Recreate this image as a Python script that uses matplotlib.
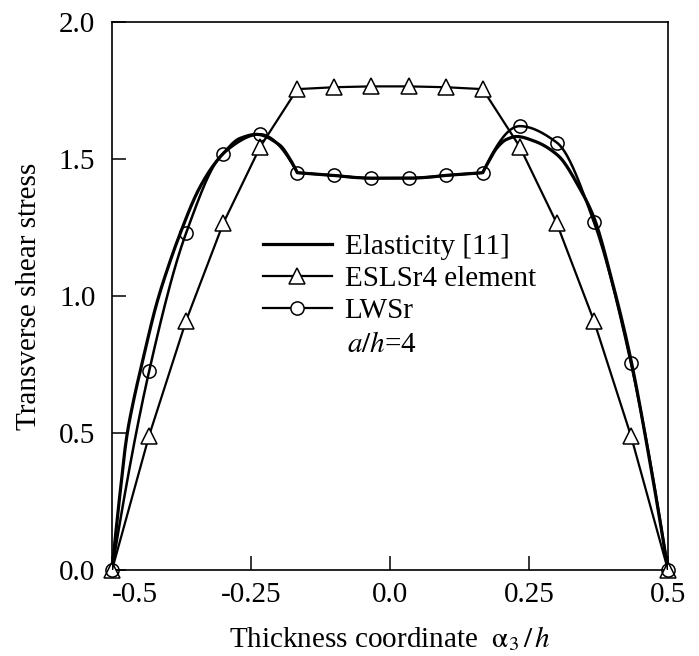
import numpy as np
import matplotlib
matplotlib.use("Agg")
import matplotlib.pyplot as plt
from matplotlib.lines import Line2D

# ---------------- data ----------------
x_nodes = [-0.5, -0.4333, -0.3667, -0.3, -0.2333, -0.1667, -0.1, -0.0333,
           0.0333, 0.1, 0.1667, 0.2333, 0.3, 0.3667, 0.4333, 0.5]
eslsr4 = [0.0, 0.49, 0.91, 1.265, 1.545, 1.755, 1.762, 1.765,
          1.765, 1.762, 1.755, 1.545, 1.265, 0.91, 0.49, 0.0]
lwsr = [0.0, 0.725, 1.23, 1.52, 1.59, 1.45, 1.44, 1.43,
        1.43, 1.44, 1.45, 1.62, 1.56, 1.27, 0.755, 0.0]

elas_x = [-0.5, -0.485, -0.474, -0.46, -0.447, -0.42, -0.40, -0.378, -0.345,
          -0.32, -0.30, -0.27, -0.24, -0.198, -0.18, -0.1667,
          -0.1333, -0.1, -0.0667, -0.0333, 0.0, 0.0333, 0.0667, 0.1, 0.1333,
          0.1667, 0.18, 0.192, 0.21, 0.228, 0.26, 0.302, 0.342, 0.367,
          0.40, 0.433, 0.467, 0.5]
elas_y = [0.0, 0.29, 0.48, 0.63, 0.745, 0.97, 1.10, 1.225, 1.385,
          1.47, 1.52, 1.575, 1.59, 1.55, 1.50, 1.45,
          1.445, 1.44, 1.433, 1.43, 1.43, 1.43, 1.433, 1.44, 1.445,
          1.45, 1.50, 1.54, 1.572, 1.582, 1.565, 1.513, 1.39, 1.285,
          1.05, 0.77, 0.40, 0.0]

xtick_vals = [-0.5, -0.25, 0.0, 0.25, 0.5]
xtick_labels = ["-0.5", "-0.25", "0.0", "0.25", "0.5"]
ytick_vals = [0.0, 0.5, 1.0, 1.5, 2.0]
ytick_labels = ["0.0", "0.5", "1.0", "1.5", "2.0"]
interfaces = [-0.1667, 0.1667]


# ---------------- helpers: monotone cubic (PCHIP) for smooth drawing ----------------
def pchip(x, y, xn):
    x = np.asarray(x, float); y = np.asarray(y, float)
    n = len(x)
    h = np.diff(x); d = np.diff(y) / h
    m = np.zeros(n)
    if n == 2:
        m[:] = d[0]
    else:
        for k in range(1, n - 1):
            if d[k - 1] * d[k] <= 0:
                m[k] = 0.0
            else:
                w1 = 2 * h[k] + h[k - 1]; w2 = h[k] + 2 * h[k - 1]
                m[k] = (w1 + w2) / (w1 / d[k - 1] + w2 / d[k])

        def endp(h0, h1, d0, d1):
            v = ((2 * h0 + h1) * d0 - h0 * d1) / (h0 + h1)
            if np.sign(v) != np.sign(d0):
                v = 0.0
            elif np.sign(d0) != np.sign(d1) and abs(v) > abs(3 * d0):
                v = 3 * d0
            return v
        m[0] = endp(h[0], h[1], d[0], d[1])
        m[-1] = endp(h[-1], h[-2], d[-1], d[-2])
    idx = np.clip(np.searchsorted(x, xn) - 1, 0, n - 2)
    t = (xn - x[idx]) / h[idx]
    h00 = 2 * t**3 - 3 * t**2 + 1; h10 = t**3 - 2 * t**2 + t
    h01 = -2 * t**3 + 3 * t**2; h11 = t**3 - t**2
    return h00 * y[idx] + h10 * h[idx] * m[idx] + h01 * y[idx + 1] + h11 * h[idx] * m[idx + 1]


def smooth_layers(x, y):
    x = np.asarray(x, float); y = np.asarray(y, float)
    bounds = [x[0]] + interfaces + [x[-1]]
    xs, ys = [], []
    for a, b in zip(bounds[:-1], bounds[1:]):
        sel = (x >= a - 1e-6) & (x <= b + 1e-6)
        xx = np.linspace(a, b, 200)
        xs.append(xx); ys.append(pchip(x[sel], y[sel], xx))
    return np.concatenate(xs), np.concatenate(ys)


# ---------------- style ----------------
plt.rcParams["font.family"] = ["Liberation Serif", "DejaVu Serif"]
plt.rcParams["mathtext.fontset"] = "stix"
plt.rcParams["axes.unicode_minus"] = False

FS = 21
fig = plt.figure(figsize=(6.99, 6.56), dpi=100)
ax = fig.add_axes([112 / 699, 1 - 570 / 656, (668 - 112) / 699, (570 - 22) / 656])

# Elasticity
ex, ey = smooth_layers(elas_x, elas_y)
ax.plot(ex, ey, color="black", lw=2.3, solid_capstyle="round", zorder=3)

# ESLSr4 element (straight segments)
ax.plot(x_nodes, eslsr4, color="black", lw=1.6, marker="^", ms=11,
        mfc="white", mec="black", mew=1.1, zorder=4, clip_on=False)

# LWSr (smooth line + circles)
lx, ly = smooth_layers(x_nodes, lwsr)
ax.plot(lx, ly, color="black", lw=1.8, zorder=4)
ax.plot(x_nodes, lwsr, ls="none", marker="o", ms=9.5, mfc="none",
        mec="black", mew=1.1, zorder=5, clip_on=False)

ax.set_xlim(-0.5, 0.5)
ax.set_ylim(0.0, 2.0)
ax.set_xticks(xtick_vals)
ax.set_xticklabels(xtick_labels)
ax.set_yticks(ytick_vals)
ax.set_yticklabels(ytick_labels)
ax.tick_params(direction="in", length=10, width=1.1, labelsize=FS, colors="black")
ax.tick_params(axis="x", pad=9)
ax.tick_params(axis="y", pad=12)
ax.get_xticklabels()[0].set_ha("left")
for s in ax.spines.values():
    s.set_linewidth(1.2)

ax.set_ylabel("Transverse shear stress", fontsize=FS)
ax.yaxis.set_label_coords(-0.125, 0.5)
ax.set_xlabel(r"Thickness coordinate  $\mathrm{\alpha}_3\,/\,h$", fontsize=FS)
ax.xaxis.set_label_coords(0.5, -0.098)

handles = [
    Line2D([], [], color="black", lw=2.3),
    Line2D([], [], color="black", lw=1.6, marker="^", ms=11, mfc="white", mew=1.1),
    Line2D([], [], color="black", lw=1.6, marker="o", ms=9.5, mfc="white", mew=1.1),
]
labels = ["Elasticity [11]", "ESLSr4 element", "LWSr"]
ax.legend(handles, labels, loc="upper left", bbox_to_anchor=(0.2716, 0.614),
          frameon=False, fontsize=FS, handlelength=2.35, handletextpad=0.45,
          labelspacing=0.19, borderpad=0.0, borderaxespad=0.0, numpoints=1)
ax.text(0.4227, 0.411, r"$a/h$=4", transform=ax.transAxes, fontsize=FS,
        ha="left", va="center")

fig.savefig("out.png", dpi=100)
